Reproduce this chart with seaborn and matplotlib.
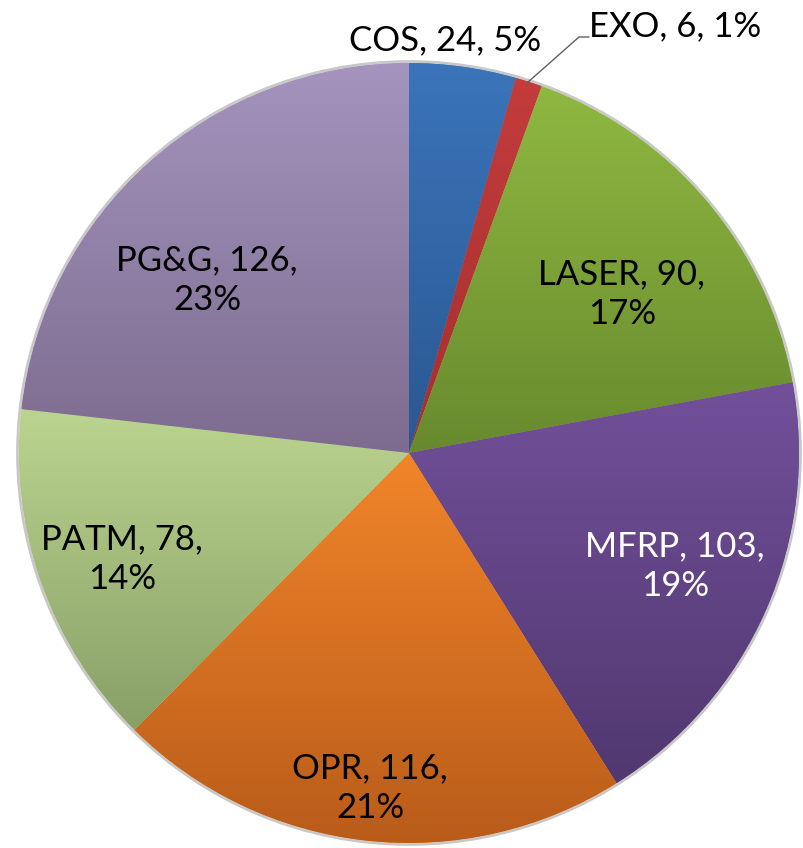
import numpy as np
import matplotlib
matplotlib.use("Agg")
import matplotlib.pyplot as plt
from matplotlib.colors import to_rgb
import seaborn as sns

# ------------------------------------------------------------------------
# data
# ------------------------------------------------------------------------
categories = ["COS", "EXO", "LASER", "MFRP", "OPR", "PATM", "PG&G"]
counts = [24, 6, 90, 103, 116, 78, 126]
pct_labels = ["5%", "1%", "17%", "19%", "21%", "14%", "23%"]

# per-slice gradient (top colour, bottom colour)
grad_top = ["#3b74ba", "#c43c3c", "#8fb841", "#72509a", "#f1852a", "#bbd48f", "#a494be"]
grad_bot = ["#2a5891", "#a52f2f", "#688a2e", "#513870", "#b95c1a", "#88a067", "#7d6c8f"]

W, H = 804, 848
CX, CY, R = 409, 453, 390

sns.set_theme(style="white")
plt.rcParams["font.family"] = ["Lato", "DejaVu Sans"]

fig = plt.figure(figsize=(W / 100, H / 100), dpi=100)
ax = fig.add_axes([0, 0, 1, 1])

wedges, _ = ax.pie(counts, startangle=90, counterclock=False,
                   center=(CX, H - CY), radius=R,
                   wedgeprops=dict(linewidth=0, edgecolor="none"))

# vertical gradient inside each wedge
for w, c0, c1 in zip(wedges, grad_top, grad_bot):
    ext = w.get_path().get_extents()
    t = np.linspace(0, 1, 256)[:, None, None]
    img = (1 - t) * np.array(to_rgb(c0)) + t * np.array(to_rgb(c1))
    w.set_facecolor(c0)
    im = ax.imshow(img, extent=[ext.x0, ext.x1, ext.y0, ext.y1],
                   origin="upper", aspect="auto", zorder=w.get_zorder() + 0.1)
    im.set_clip_path(w)

# soft rim around the pie
rim = plt.Circle((CX, H - CY), R + 1.5, fill=False, ec="#c8c8c8", lw=2.0, zorder=0.5)
ax.add_patch(rim)

# label positions (pixel coordinates of text centre in the image)
label_pos = [(445, 40), (675, 26), (622, 294), (675, 566),
             (370, 788), (122, 559), (207, 280)]
label_col = ["black", "black", "black", "white", "black", "black", "black"]
two_line = [False, False, True, True, True, True, True]

for cat, n, p, (x, y), col, tl in zip(categories, counts, pct_labels,
                                      label_pos, label_col, two_line):
    txt = f"{cat}, {n},\n{p}" if tl else f"{cat}, {n}, {p}"
    ax.text(x, H - y, txt, ha="center", va="center", fontsize=25,
            color=col, linespacing=1.32, zorder=5)

# leader line for EXO
ax.plot([527, 579, 589], [H - 83, H - 37, H - 37], color="#606060", lw=1.0, zorder=4)

ax.set_xlim(0, W)
ax.set_ylim(0, H)
ax.set_aspect("equal")
ax.axis("off")

fig.savefig("out.png", dpi=100, facecolor="white")
